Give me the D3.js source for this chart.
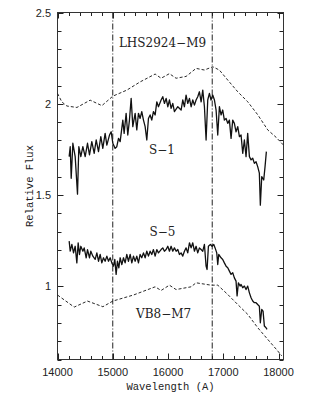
<!DOCTYPE html>
<html>
<head>
<meta charset="utf-8">
<script src="https://cdn.jsdelivr.net/npm/d3@7"></script>
<style>
  body { margin: 0; background: #fff; }
  .tick-label { font-family: "Liberation Sans", Arial, sans-serif; font-size: 11px; fill: #222; }
  .axis-title { font-family: "Liberation Mono", "Courier New", monospace; font-size: 10.5px; fill: #222; }
  .spec-label { font-family: "DejaVu Serif", serif; font-size: 12px; fill: #222; }
</style>
</head>
<body>
<svg id="chart" width="322" height="416"></svg>
<script>
// wavelength (A) / relative flux
const s1Wave = [14211, 14230, 14248, 14278, 14320, 14362, 14386, 14422, 14459, 14501, 14543, 14579, 14621, 14664, 14700, 14742, 14784, 14820, 14862, 14893, 14941, 14971, 15001, 15043, 15073, 15104, 15134, 15182, 15206, 15242, 15272, 15302, 15333, 15363, 15405, 15435, 15465, 15495, 15525, 15556, 15586, 15616, 15646, 15676, 15706, 15736, 15767, 15797, 15827, 15875, 15905, 15935, 15966, 15996, 16026, 16056, 16086, 16116, 16177, 16237, 16267, 16297, 16327, 16357, 16388, 16418, 16448, 16478, 16508, 16538, 16568, 16599, 16629, 16659, 16689, 16719, 16749, 16779, 16809, 16840, 16870, 16900, 16930, 16960, 16990, 17020, 17051, 17081, 17111, 17141, 17171, 17201, 17231, 17262, 17292, 17322, 17352, 17382, 17412, 17442, 17473, 17503, 17533, 17563, 17593, 17623, 17653, 17671, 17696, 17732, 17756, 17780];
const s1Flux = [1.711, 1.765, 1.592, 1.784, 1.711, 1.505, 1.765, 1.711, 1.765, 1.711, 1.784, 1.720, 1.793, 1.729, 1.802, 1.738, 1.820, 1.756, 1.838, 1.774, 1.829, 1.847, 1.784, 1.756, 1.765, 1.811, 1.793, 1.911, 1.838, 1.948, 1.829, 1.911, 2.030, 1.875, 1.948, 1.857, 1.948, 1.920, 1.957, 1.911, 1.875, 1.802, 1.920, 1.939, 1.911, 1.957, 1.939, 2.011, 1.984, 2.021, 2.039, 2.002, 2.030, 1.984, 2.021, 1.975, 2.002, 1.957, 1.984, 1.966, 2.021, 1.984, 2.048, 2.002, 2.030, 1.984, 2.021, 1.993, 2.021, 2.039, 2.066, 2.011, 2.075, 1.984, 1.802, 2.021, 2.057, 2.021, 2.048, 2.021, 1.966, 1.829, 1.984, 1.939, 1.966, 1.911, 1.920, 1.893, 1.911, 1.811, 1.911, 1.893, 1.847, 1.875, 1.820, 1.829, 1.729, 1.802, 1.711, 1.838, 1.711, 1.693, 1.702, 1.674, 1.683, 1.656, 1.620, 1.445, 1.601, 1.583, 1.656, 1.738];

const s5Wave = [14211, 14230, 14260, 14290, 14320, 14350, 14374, 14398, 14422, 14459, 14483, 14519, 14543, 14579, 14603, 14640, 14682, 14712, 14742, 14772, 14802, 14832, 14862, 14893, 14923, 14953, 14983, 15013, 15037, 15061, 15085, 15110, 15134, 15164, 15194, 15224, 15254, 15284, 15315, 15345, 15375, 15405, 15435, 15465, 15495, 15525, 15556, 15586, 15616, 15646, 15676, 15706, 15736, 15767, 15797, 15827, 15875, 15905, 15935, 15966, 15996, 16026, 16056, 16086, 16116, 16147, 16177, 16207, 16237, 16267, 16297, 16327, 16357, 16388, 16418, 16448, 16478, 16508, 16538, 16568, 16599, 16629, 16659, 16689, 16707, 16731, 16767, 16797, 16828, 16852, 16882, 16900, 16918, 16960, 16990, 17020, 17051, 17081, 17111, 17141, 17171, 17201, 17231, 17250, 17274, 17304, 17322, 17352, 17382, 17412, 17442, 17473, 17503, 17533, 17563, 17593, 17623, 17653, 17671, 17696, 17720, 17744, 17774, 17792];
const s5Flux = [1.248, 1.193, 1.230, 1.184, 1.220, 1.129, 1.239, 1.175, 1.220, 1.193, 1.211, 1.157, 1.202, 1.157, 1.193, 1.166, 1.148, 1.184, 1.138, 1.175, 1.129, 1.157, 1.138, 1.166, 1.138, 1.157, 1.129, 1.111, 1.148, 1.066, 1.138, 1.102, 1.157, 1.120, 1.157, 1.129, 1.175, 1.138, 1.175, 1.129, 1.166, 1.138, 1.166, 1.129, 1.175, 1.157, 1.184, 1.157, 1.193, 1.166, 1.193, 1.175, 1.202, 1.166, 1.202, 1.184, 1.202, 1.211, 1.193, 1.202, 1.220, 1.193, 1.220, 1.193, 1.211, 1.193, 1.202, 1.175, 1.184, 1.166, 1.193, 1.211, 1.184, 1.239, 1.211, 1.239, 1.193, 1.220, 1.184, 1.211, 1.202, 1.193, 1.230, 1.111, 1.093, 1.220, 1.230, 1.220, 1.230, 1.211, 1.184, 1.120, 1.175, 1.157, 1.148, 1.129, 1.111, 1.102, 1.084, 1.066, 1.075, 1.047, 1.029, 0.948, 1.020, 1.002, 1.011, 0.993, 1.002, 0.983, 1.002, 0.965, 0.938, 0.920, 0.911, 0.911, 0.901, 0.892, 0.801, 0.874, 0.865, 0.783, 0.774, 0.765];

const lhsWave = [14000, 14080, 14170, 14351, 14591, 14803, 15002, 15255, 15495, 15767, 15875, 16025, 16146, 16327, 16508, 16658, 16810, 16929, 17081, 17262, 17443, 17624, 17805, 17955, 18090];
const lhsFlux = [2.057, 2.010, 1.988, 1.980, 2.020, 1.990, 2.042, 2.075, 2.120, 2.163, 2.140, 2.165, 2.140, 2.150, 2.194, 2.185, 2.203, 2.185, 2.130, 2.066, 2.011, 1.940, 1.857, 1.817, 1.774];

const vb8Wave = [14000, 14302, 14542, 14821, 15002, 15374, 15767, 15875, 16025, 16146, 16417, 16508, 16779, 16901, 17081, 17262, 17443, 17624, 17805, 17985, 18058];
const vb8Flux = [0.953, 0.887, 0.920, 0.889, 0.920, 0.953, 0.998, 0.978, 1.007, 0.983, 0.998, 1.020, 1.007, 1.007, 0.956, 0.901, 0.847, 0.774, 0.710, 0.647, 0.620];

const markerLines = [15000, 16800];
const xTickLabels = [14000, 15000, 16000, 17000, 18000];
const yTickLabels = [1, 1.5, 2, 2.5];

const labels = [
  { text: "LHS2924\u2212M9", w: 15900, f: 2.331 },
  { text: "S\u22121", w: 15890, f: 1.747 },
  { text: "S\u22125", w: 15900, f: 1.298 },
  { text: "VB8\u2212M7", w: 15920, f: 0.849 }
];

const svg = d3.select("#chart");
const frame = { left: 57.5, right: 283.5, top: 12.5, bottom: 359.5 };

const x = d3.scaleLinear().domain([14000, 18090]).range([frame.left, frame.right]);
const y = d3.scaleLinear().domain([0.6, 2.5]).range([frame.bottom, frame.top]);

svg.append("clipPath").attr("id", "plot-clip")
  .append("rect")
    .attr("x", frame.left).attr("y", frame.top)
    .attr("width", frame.right - frame.left).attr("height", frame.bottom - frame.top);

// ticks on all four sides, pointing inward
const xMinor = d3.range(14000, 18001, 200);
const yMinor = d3.range(6, 26).map(d => d / 10);
const isMajorX = d => d % 1000 === 0;
const isMajorY = d => Math.abs(d * 2 - Math.round(d * 2)) < 1e-6;

const ticks = svg.append("g").attr("stroke", "#222").attr("stroke-width", 1);
[frame.bottom, frame.top].forEach((edge, i) => {
  ticks.selectAll(null)
    .data(xMinor)
    .join("line")
      .attr("x1", d => Math.round(x(d)) + 0.5)
      .attr("x2", d => Math.round(x(d)) + 0.5)
      .attr("y1", edge)
      .attr("y2", d => edge + (i === 0 ? -1 : 1) * (isMajorX(d) ? 6 : 3.5));
});
[frame.left, frame.right].forEach((edge, i) => {
  ticks.selectAll(null)
    .data(yMinor)
    .join("line")
      .attr("y1", d => Math.round(y(d)) + 0.5)
      .attr("y2", d => Math.round(y(d)) + 0.5)
      .attr("x1", edge)
      .attr("x2", d => edge + (i === 0 ? 1 : -1) * (isMajorY(d) ? 6 : 4));
});

svg.append("rect")
  .attr("x", frame.left).attr("y", frame.top)
  .attr("width", frame.right - frame.left).attr("height", frame.bottom - frame.top)
  .attr("fill", "none").attr("stroke", "#333").attr("stroke-width", 1);

svg.selectAll(".xlab")
  .data(xTickLabels)
  .join("text")
    .attr("class", "tick-label")
    .attr("x", d => x(d))
    .attr("y", 375.5)
    .attr("text-anchor", "middle")
    .text(d => d);

svg.selectAll(".ylab")
  .data(yTickLabels)
  .join("text")
    .attr("class", "tick-label")
    .attr("x", 51)
    .attr("y", d => y(d) + 4)
    .attr("text-anchor", "end")
    .text(d => d);

svg.append("text")
  .attr("class", "axis-title")
  .attr("x", (frame.left + frame.right) / 2)
  .attr("y", 390)
  .attr("text-anchor", "middle")
  .text("Wavelength (A)");

svg.append("text")
  .attr("class", "axis-title")
  .attr("transform", `translate(33,${(frame.top + frame.bottom) / 2}) rotate(-90)`)
  .attr("text-anchor", "middle")
  .text("Relative Flux");

const plot = svg.append("g").attr("clip-path", "url(#plot-clip)");

plot.selectAll(".marker")
  .data(markerLines)
  .join("line")
    .attr("x1", d => x(d)).attr("x2", d => x(d))
    .attr("y1", frame.top).attr("y2", frame.bottom)
    .attr("stroke", "#222")
    .attr("stroke-width", 1)
    .attr("stroke-dasharray", "6,2,1,2");

const line = d3.line().x(d => x(d[0])).y(d => y(d[1]));

function drawSpectrum(waves, fluxes, dashed) {
  plot.append("path")
    .datum(d3.zip(waves, fluxes))
    .attr("d", line)
    .attr("fill", "none")
    .attr("stroke", "#111")
    .attr("stroke-width", dashed ? 0.9 : 1.3)
    .attr("stroke-linejoin", "round")
    .attr("stroke-dasharray", dashed ? "3,2" : null);
}

drawSpectrum(lhsWave, lhsFlux, true);
drawSpectrum(vb8Wave, vb8Flux, true);
drawSpectrum(s1Wave, s1Flux, false);
drawSpectrum(s5Wave, s5Flux, false);

svg.selectAll(".spec-label")
  .data(labels)
  .join("text")
    .attr("class", "spec-label")
    .attr("x", d => x(d.w))
    .attr("y", d => y(d.f) + 4)
    .attr("text-anchor", "middle")
    .text(d => d.text);
</script>
</body>
</html>
